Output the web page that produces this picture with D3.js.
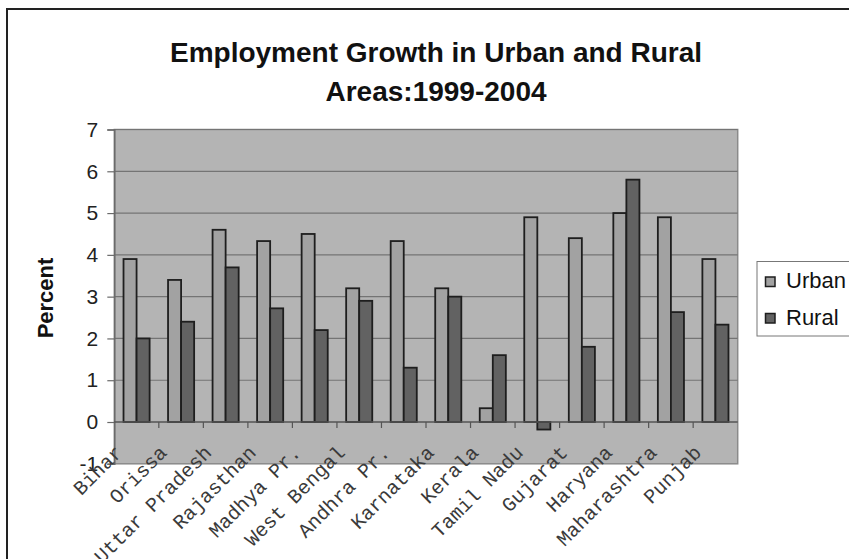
<!DOCTYPE html>
<html><head><meta charset="utf-8">
<script src="https://cdn.jsdelivr.net/npm/d3@7"></script>
<style>html,body{margin:0;padding:0;background:#fff;}svg{display:block;}</style>
</head><body>
<script>
const categories = ["Bihar","Orissa","Uttar Pradesh","Rajasthan","Madhya Pr.","West Bengal","Andhra Pr.","Karnataka","Kerala","Tamil Nadu","Gujarat","Haryana","Maharashtra","Punjab"];
const urban = [3.9,3.4,4.6,4.33,4.5,3.2,4.33,3.2,0.33,4.9,4.4,5.0,4.9,3.9];
const rural = [2.0,2.4,3.7,2.72,2.2,2.9,1.3,3.0,1.6,-0.18,1.8,5.8,2.63,2.33];
const seriesNames = ["Urban","Rural"];
const seriesColors = ["#a2a2a2","#626262"];
const yTicks = [-1,0,1,2,3,4,5,6,7];
const titleLines = ["Employment Growth in Urban and Rural","Areas:1999-2004"];
const yLabel = "Percent";

const W = 849, H = 559;
const plot = {left:114.3, right:737.7, top:129.5, bottom:463.8};

const svg = d3.select("body").append("svg").attr("width",W).attr("height",H);
svg.append("rect").attr("width",W).attr("height",H).attr("fill","#fff");
// outer chart border
svg.append("rect").attr("x",7).attr("y",9).attr("width",W+20).attr("height",H+20)
  .attr("fill","none").attr("stroke","#222").attr("stroke-width",2);

// title
const title = svg.append("text").attr("text-anchor","middle")
  .attr("font-family","Liberation Sans, Arial, sans-serif").attr("font-weight","bold")
  .attr("font-size",28).attr("fill","#111");
titleLines.forEach((t,i)=>title.append("tspan").attr("x",436).attr("y",62+i*39).text(t));

const y = d3.scaleLinear().domain([-1,7]).range([plot.bottom, plot.top]);
const x0 = d3.scaleBand().domain(categories).range([plot.left, plot.right]).padding(0);
const bw = x0.bandwidth();
const gap = bw*0.207;
const x1 = d3.scaleBand().domain(seriesNames).range([gap, bw-gap]).padding(0);

// plot background
svg.append("rect").attr("x",plot.left).attr("y",plot.top)
  .attr("width",plot.right-plot.left).attr("height",plot.bottom-plot.top)
  .attr("fill","#b4b4b4").attr("stroke","#8a8a8a").attr("stroke-width",1.5);

// gridlines
svg.append("g").selectAll("line").data(yTicks.filter(d=>d>0)).join("line")
  .attr("x1",plot.left).attr("x2",plot.right)
  .attr("y1",d=>y(d)).attr("y2",d=>y(d))
  .attr("stroke","#747474").attr("stroke-width",1.2);

// y axis
const yAxis = d3.axisLeft(y).tickValues(yTicks).tickSize(7).tickPadding(9).tickFormat(d=>String(d));
const gy = svg.append("g").attr("transform",`translate(${plot.left},0)`).call(yAxis);
gy.select(".domain").attr("stroke","#6a6a6a").attr("stroke-width",1.5);
gy.selectAll(".tick line").attr("stroke","#6a6a6a").attr("stroke-width",1.2);
gy.selectAll(".tick text").attr("font-family","Liberation Sans, Arial, sans-serif")
  .attr("font-size",21).attr("fill","#222");

// bars
const data = categories.map((c,i)=>({cat:c, vals:[urban[i], rural[i]]}));
const groups = svg.append("g").selectAll("g").data(data).join("g")
  .attr("transform",d=>`translate(${x0(d.cat)},0)`);
groups.selectAll("rect").data(d=>d.vals.map((v,j)=>({s:seriesNames[j], v, j}))).join("rect")
  .attr("x",d=>x1(d.s)).attr("width",x1.bandwidth())
  .attr("y",d=>y(Math.max(0,d.v))).attr("height",d=>Math.abs(y(d.v)-y(0)))
  .attr("fill",d=>seriesColors[d.j]).attr("stroke","#1e1e1e").attr("stroke-width",1.8);

// x axis at zero
svg.append("line").attr("x1",plot.left).attr("x2",plot.right).attr("y1",y(0)).attr("y2",y(0))
  .attr("stroke","#555").attr("stroke-width",1.5);
svg.append("g").selectAll("line").data(categories.slice(1)).join("line")
  .attr("x1",d=>x0(d)).attr("x2",d=>x0(d)).attr("y1",y(0)).attr("y2",y(0)+6)
  .attr("stroke","#555").attr("stroke-width",1.2);

// x labels rotated
svg.append("g").selectAll("text").data(categories).join("text")
  .attr("transform",d=>`translate(${x0(d)+bw/2-13},${plot.bottom-10}) rotate(-45)`)
  .attr("text-anchor","end")
  .attr("font-family","Liberation Mono, Courier New, monospace")
  .attr("font-size",20).attr("fill","#3a3a3a").text(d=>d);

// y label
svg.append("text").attr("transform",`translate(53,298) rotate(-90)`)
  .attr("text-anchor","middle").attr("font-family","Liberation Sans, Arial, sans-serif")
  .attr("font-weight","bold").attr("font-size",22).attr("fill","#111").text(yLabel);

// legend
const lg = svg.append("g");
lg.append("rect").attr("x",757).attr("y",261.5).attr("width",120).attr("height",74.5)
  .attr("fill","#fff").attr("stroke","#777").attr("stroke-width",1);
seriesNames.forEach((s,i)=>{
  lg.append("rect").attr("x",765.5).attr("y",277+i*36.5).attr("width",9.5).attr("height",9.5)
    .attr("fill",seriesColors[i]).attr("stroke","#1e1e1e").attr("stroke-width",1.5);
  lg.append("text").attr("x",786).attr("y",287.5+i*37).attr("font-family","Liberation Sans, Arial, sans-serif")
    .attr("font-size",22).attr("fill","#111").text(s);
});
</script>
</body></html>
